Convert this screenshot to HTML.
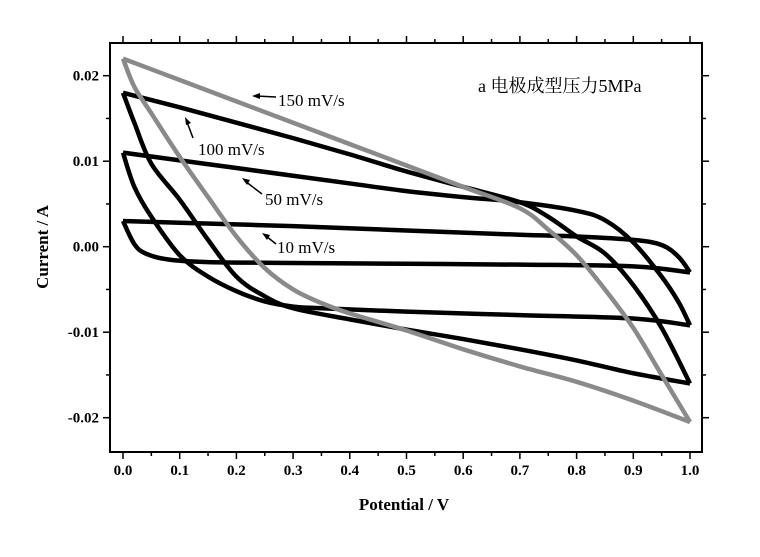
<!DOCTYPE html>
<html><head><meta charset="utf-8"><style>
html,body{margin:0;padding:0;background:#fff;}
svg{display:block;font-family:"Liberation Serif","Noto Serif CJK SC",serif;}
</style></head><body>
<svg id="chart" width="760" height="557" viewBox="0 0 760 557" xmlns="http://www.w3.org/2000/svg">
<rect x="110" y="43" width="592" height="409" fill="none" stroke="#000" stroke-width="2"/>
<g id="ticks"></g>
<g id="series"></g>
<text x="404" y="510" font-size="17" font-weight="bold" text-anchor="middle">Potential / V</text>
<text x="48" y="247" font-size="17" font-weight="bold" text-anchor="middle" transform="rotate(-90 48 247)">Current / A</text>
<text x="478" y="92" font-size="18">a  电极成型压力5MPa</text>
<g>
<line x1="276" y1="97" x2="256" y2="96" stroke="#000" stroke-width="1.5"/><path d="M252,96 l8,-3 l0,6z" fill="#000"/>
<text x="278" y="106" font-size="17">150 mV/s</text></g>
<g>
<line x1="193" y1="138" x2="187" y2="122" stroke="#000" stroke-width="1.5"/><path d="M185,117 l6,6 l-5,2z" fill="#000"/>
<text x="198" y="155" font-size="17">100 mV/s</text></g>
<g>
<line x1="262" y1="194" x2="245" y2="181" stroke="#000" stroke-width="1.5"/><path d="M242,178 l8,2 l-3,5z" fill="#000"/>
<text x="265" y="205" font-size="17">50 mV/s</text></g>
<g>
<line x1="276" y1="244" x2="266" y2="236" stroke="#000" stroke-width="1.5"/><path d="M262,233 l8,2 l-3,5z" fill="#000"/>
<text x="277" y="253" font-size="17">10 mV/s</text></g>
</svg>
<script>
const xTickLabels=["0.0","0.1","0.2","0.3","0.4","0.5","0.6","0.7","0.8","0.9","1.0"];
const yTickVals=[0.02,0.01,0.0,-0.01,-0.02];
const yTickLabels=["0.02","0.01","0.00","-0.01","-0.02"];
const v150Up=[0,0.1,0.2,0.3,0.4,0.5,0.6,0.7,0.75,0.8,0.85,0.9,0.95,1.0];
const i150Up=[0.022,0.0195,0.017,0.0145,0.012,0.0095,0.007,0.0045,0.002,-0.001,-0.005,-0.0095,-0.015,-0.0205];
const v150Dn=[1.0,0.9,0.8,0.7,0.6,0.5,0.4,0.35,0.3,0.25,0.2,0.15,0.1,0.05,0.02,0.0];
const i150Dn=[-0.0205,-0.018,-0.0158,-0.014,-0.012,-0.0098,-0.0078,-0.0066,-0.005,-0.0025,0.0012,0.0058,0.0105,0.0156,0.0187,0.022];
const v100Up=[0,0.1,0.2,0.3,0.4,0.5,0.6,0.7,0.75,0.8,0.85,0.9,0.95,1.0];
const i100Up=[0.018,0.0163,0.0145,0.0127,0.0108,0.0088,0.007,0.0052,0.0035,0.0012,-0.0008,-0.0045,-0.0095,-0.016];
const v100Dn=[1.0,0.9,0.8,0.7,0.6,0.5,0.4,0.3,0.25,0.2,0.15,0.1,0.05,0.02,0.0];
const i100Dn=[-0.016,-0.0148,-0.0133,-0.012,-0.0108,-0.0097,-0.0085,-0.0072,-0.0058,-0.0035,0.0008,0.0055,0.0097,0.0145,0.018];
const v50Up=[0,0.1,0.2,0.3,0.4,0.5,0.6,0.7,0.8,0.85,0.9,0.95,0.98,1.0];
const i50Up=[0.011,0.0101,0.0092,0.0083,0.0074,0.0065,0.0058,0.0052,0.0042,0.0031,0.0005,-0.0035,-0.0065,-0.0092];
const v50Dn=[1.0,0.9,0.7,0.5,0.35,0.3,0.25,0.2,0.15,0.1,0.05,0.02,0.0];
const i50Dn=[-0.0092,-0.0084,-0.008,-0.0076,-0.0072,-0.007,-0.0064,-0.0052,-0.0035,-0.001,0.0035,0.007,0.011];
const v10Up=[0,0.1,0.3,0.5,0.7,0.8,0.9,0.95,0.98,1.0];
const i10Up=[0.003,0.0028,0.0024,0.0019,0.0014,0.0012,0.0008,0.0002,-0.0012,-0.003];
const v10Dn=[1.0,0.9,0.7,0.5,0.3,0.15,0.08,0.04,0.02,0.0];
const i10Dn=[-0.003,-0.0023,-0.0021,-0.002,-0.0019,-0.0018,-0.0015,-0.0008,0.0003,0.003];

const NS="http://www.w3.org/2000/svg";
function xs(v){return 123+567*v;}
function ys(i){return 246.7-8550*i;}
const tg=document.getElementById('ticks');
function ln(x1,y1,x2,y2){const l=document.createElementNS(NS,'line');l.setAttribute('x1',x1);l.setAttribute('y1',y1);l.setAttribute('x2',x2);l.setAttribute('y2',y2);l.setAttribute('stroke','#000');l.setAttribute('stroke-width','1.5');tg.appendChild(l);return l;}
for(let k=0;k<=20;k++){const v=k/20,x=xs(v),L=k%2?4:7;
 ln(x,452,x,452+L);ln(x,43,x,43-L);}
xTickLabels.forEach((t,k)=>{const e=document.createElementNS(NS,'text');


e.setAttribute('x',xs(k/10));e.setAttribute('y',475);e.setAttribute('font-size','15');e.setAttribute('font-weight','bold');e.setAttribute('text-anchor','middle');e.textContent=t;tg.appendChild(e);});
for(let k=-5;k<=5;k++){const i=k*0.005,y=ys(i),L=k%2?4:7;if(y<44||y>451)continue;
 ln(110,y,110-L,y);ln(702,y,702+L,y);}
yTickVals.forEach((val,k)=>{const e=document.createElementNS(NS,'text');


e.setAttribute('x',99);e.setAttribute('y',ys(val)+5);e.setAttribute('font-size','15');e.setAttribute('font-weight','bold');e.setAttribute('text-anchor','end');e.textContent=yTickLabels[k];tg.appendChild(e);});
function pathFrom(vs,is){const p=vs.map((v,k)=>[xs(v),ys(is[k])]);let d='M'+p[0][0]+','+p[0][1];
 for(let k=0;k<p.length-1;k++){const p0=p[Math.max(0,k-1)],p1=p[k],p2=p[k+1],p3=p[Math.min(p.length-1,k+2)];
 const c1=[p1[0]+(p2[0]-p0[0])/6,p1[1]+(p2[1]-p0[1])/6],c2=[p2[0]-(p3[0]-p1[0])/6,p2[1]-(p3[1]-p1[1])/6];
 d+=' C'+c1[0]+','+c1[1]+' '+c2[0]+','+c2[1]+' '+p2[0]+','+p2[1];}return d;}
const sg=document.getElementById('series');
function draw(vu,iu,vd,id,col,name){[[vu,iu],[vd,id]].forEach(([v,i])=>{const p=document.createElementNS(NS,'path');


p.setAttribute('d',pathFrom(v,i));p.setAttribute('fill','none');p.setAttribute('stroke',col);p.setAttribute('stroke-width','4.5');p.setAttribute('stroke-linejoin','round');sg.appendChild(p);});}
draw(v10Up,i10Up,v10Dn,i10Dn,'#000','cv-10mVs');
draw(v50Up,i50Up,v50Dn,i50Dn,'#000','cv-50mVs');
draw(v100Up,i100Up,v100Dn,i100Dn,'#000','cv-100mVs');
draw(v150Up,i150Up,v150Dn,i150Dn,'#8a8a8a','cv-150mVs');
</script>
</body></html>
